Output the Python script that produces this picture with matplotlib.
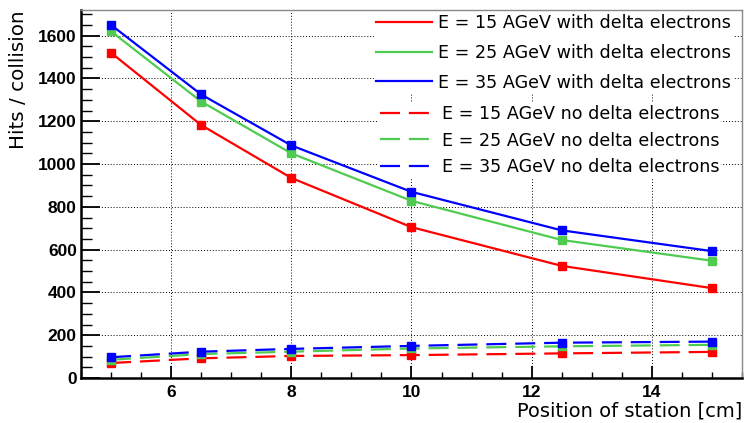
import matplotlib
matplotlib.use('Agg')
import matplotlib.pyplot as plt
from matplotlib.ticker import MultipleLocator
from matplotlib.lines import Line2D

# station positions [cm]
position = [5, 6.5, 8, 10, 12.5, 15]

# hits per collision, with delta electrons
hits_15_delta = [1520, 1182, 935, 705, 524, 420]
hits_25_delta = [1620, 1292, 1050, 828, 645, 548]
hits_35_delta = [1650, 1325, 1087, 870, 690, 593]

# hits per collision, without delta electrons
hits_15_nodelta = [70, 92, 103, 107, 115, 122]
hits_25_nodelta = [85, 112, 123, 138, 148, 155]
hits_35_nodelta = [97, 123, 136, 150, 165, 170]

labels_delta = ["E = 15 AGeV with delta electrons",
                "E = 25 AGeV with delta electrons",
                "E = 35 AGeV with delta electrons"]
labels_nodelta = ["E = 15 AGeV no delta electrons",
                  "E = 25 AGeV no delta electrons",
                  "E = 35 AGeV no delta electrons"]

colors = ["#ff0000", "#4fcc4f", "#0000ff"]
dash = (0, (9, 4))

fig = plt.figure(figsize=(7.46, 4.23), dpi=100)
ax = fig.add_axes([0.1086, 0.1064, 0.886, 0.870])

for ys, c in zip([hits_15_delta, hits_25_delta, hits_35_delta], colors):
    ax.plot(position, ys, color=c, lw=1.6, marker='s', ms=5.5, mec=c, mfc=c)
for ys, c in zip([hits_15_nodelta, hits_25_nodelta, hits_35_nodelta], colors):
    ax.plot(position, ys, color=c, lw=1.6, ls=dash, marker='s', ms=5.5, mec=c, mfc=c)

ax.set_xlim(4.5, 15.5)
ax.set_ylim(0, 1720)
ax.xaxis.set_major_locator(MultipleLocator(2))
ax.xaxis.set_minor_locator(MultipleLocator(0.5))
ax.yaxis.set_major_locator(MultipleLocator(200))
ax.yaxis.set_minor_locator(MultipleLocator(50))
ax.tick_params(which='both', direction='in', top=False, right=False)
ax.tick_params(axis='x', which='major', length=9, width=1.3, pad=5)
ax.tick_params(axis='x', which='minor', length=4, width=1)
ax.tick_params(axis='y', which='major', length=14, width=1.3, pad=3)
ax.tick_params(axis='y', which='minor', length=8, width=1)
for lab in ax.get_xticklabels() + ax.get_yticklabels():
    lab.set_family('Liberation Sans')
    lab.set_fontweight('bold')
    lab.set_fontsize(12.5)

ax.grid(True, which='major', color='black', ls=(0, (1, 2)), lw=0.7)
ax.set_axisbelow(True)

for s in ['left', 'bottom']:
    ax.spines[s].set_linewidth(1.8)
for s in ['top', 'right']:
    ax.spines[s].set_color('#888888')
    ax.spines[s].set_linewidth(1)

ax.set_ylabel("Hits / collision", fontsize=14.3, loc='top', labelpad=7)
ax.set_xlabel("Position of station [cm]", fontsize=14, loc='right', labelpad=1)

# two legend blocks, like the original
h1 = [Line2D([], [], color=c, lw=1.6) for c in colors]
h2 = [Line2D([], [], color=c, lw=1.6, ls=dash) for c in colors]
leg_kw = dict(fontsize=12.6, frameon=True, facecolor='white', edgecolor='none',
              framealpha=1, fancybox=False, handlelength=3.2, handletextpad=0.35,
              borderpad=0.1, borderaxespad=0, loc='upper left')
leg1 = ax.legend(h1, labels_delta, bbox_to_anchor=(374 / 746, 1 - 12 / 423),
                 bbox_transform=fig.transFigure, labelspacing=0.68, **leg_kw)
ax.add_artist(leg1)
leg2 = ax.legend(h2, labels_nodelta, bbox_to_anchor=(378 / 746, 1 - 103 / 423),
                 bbox_transform=fig.transFigure, labelspacing=0.5, **leg_kw)

fig.savefig('out.png', dpi=100)
